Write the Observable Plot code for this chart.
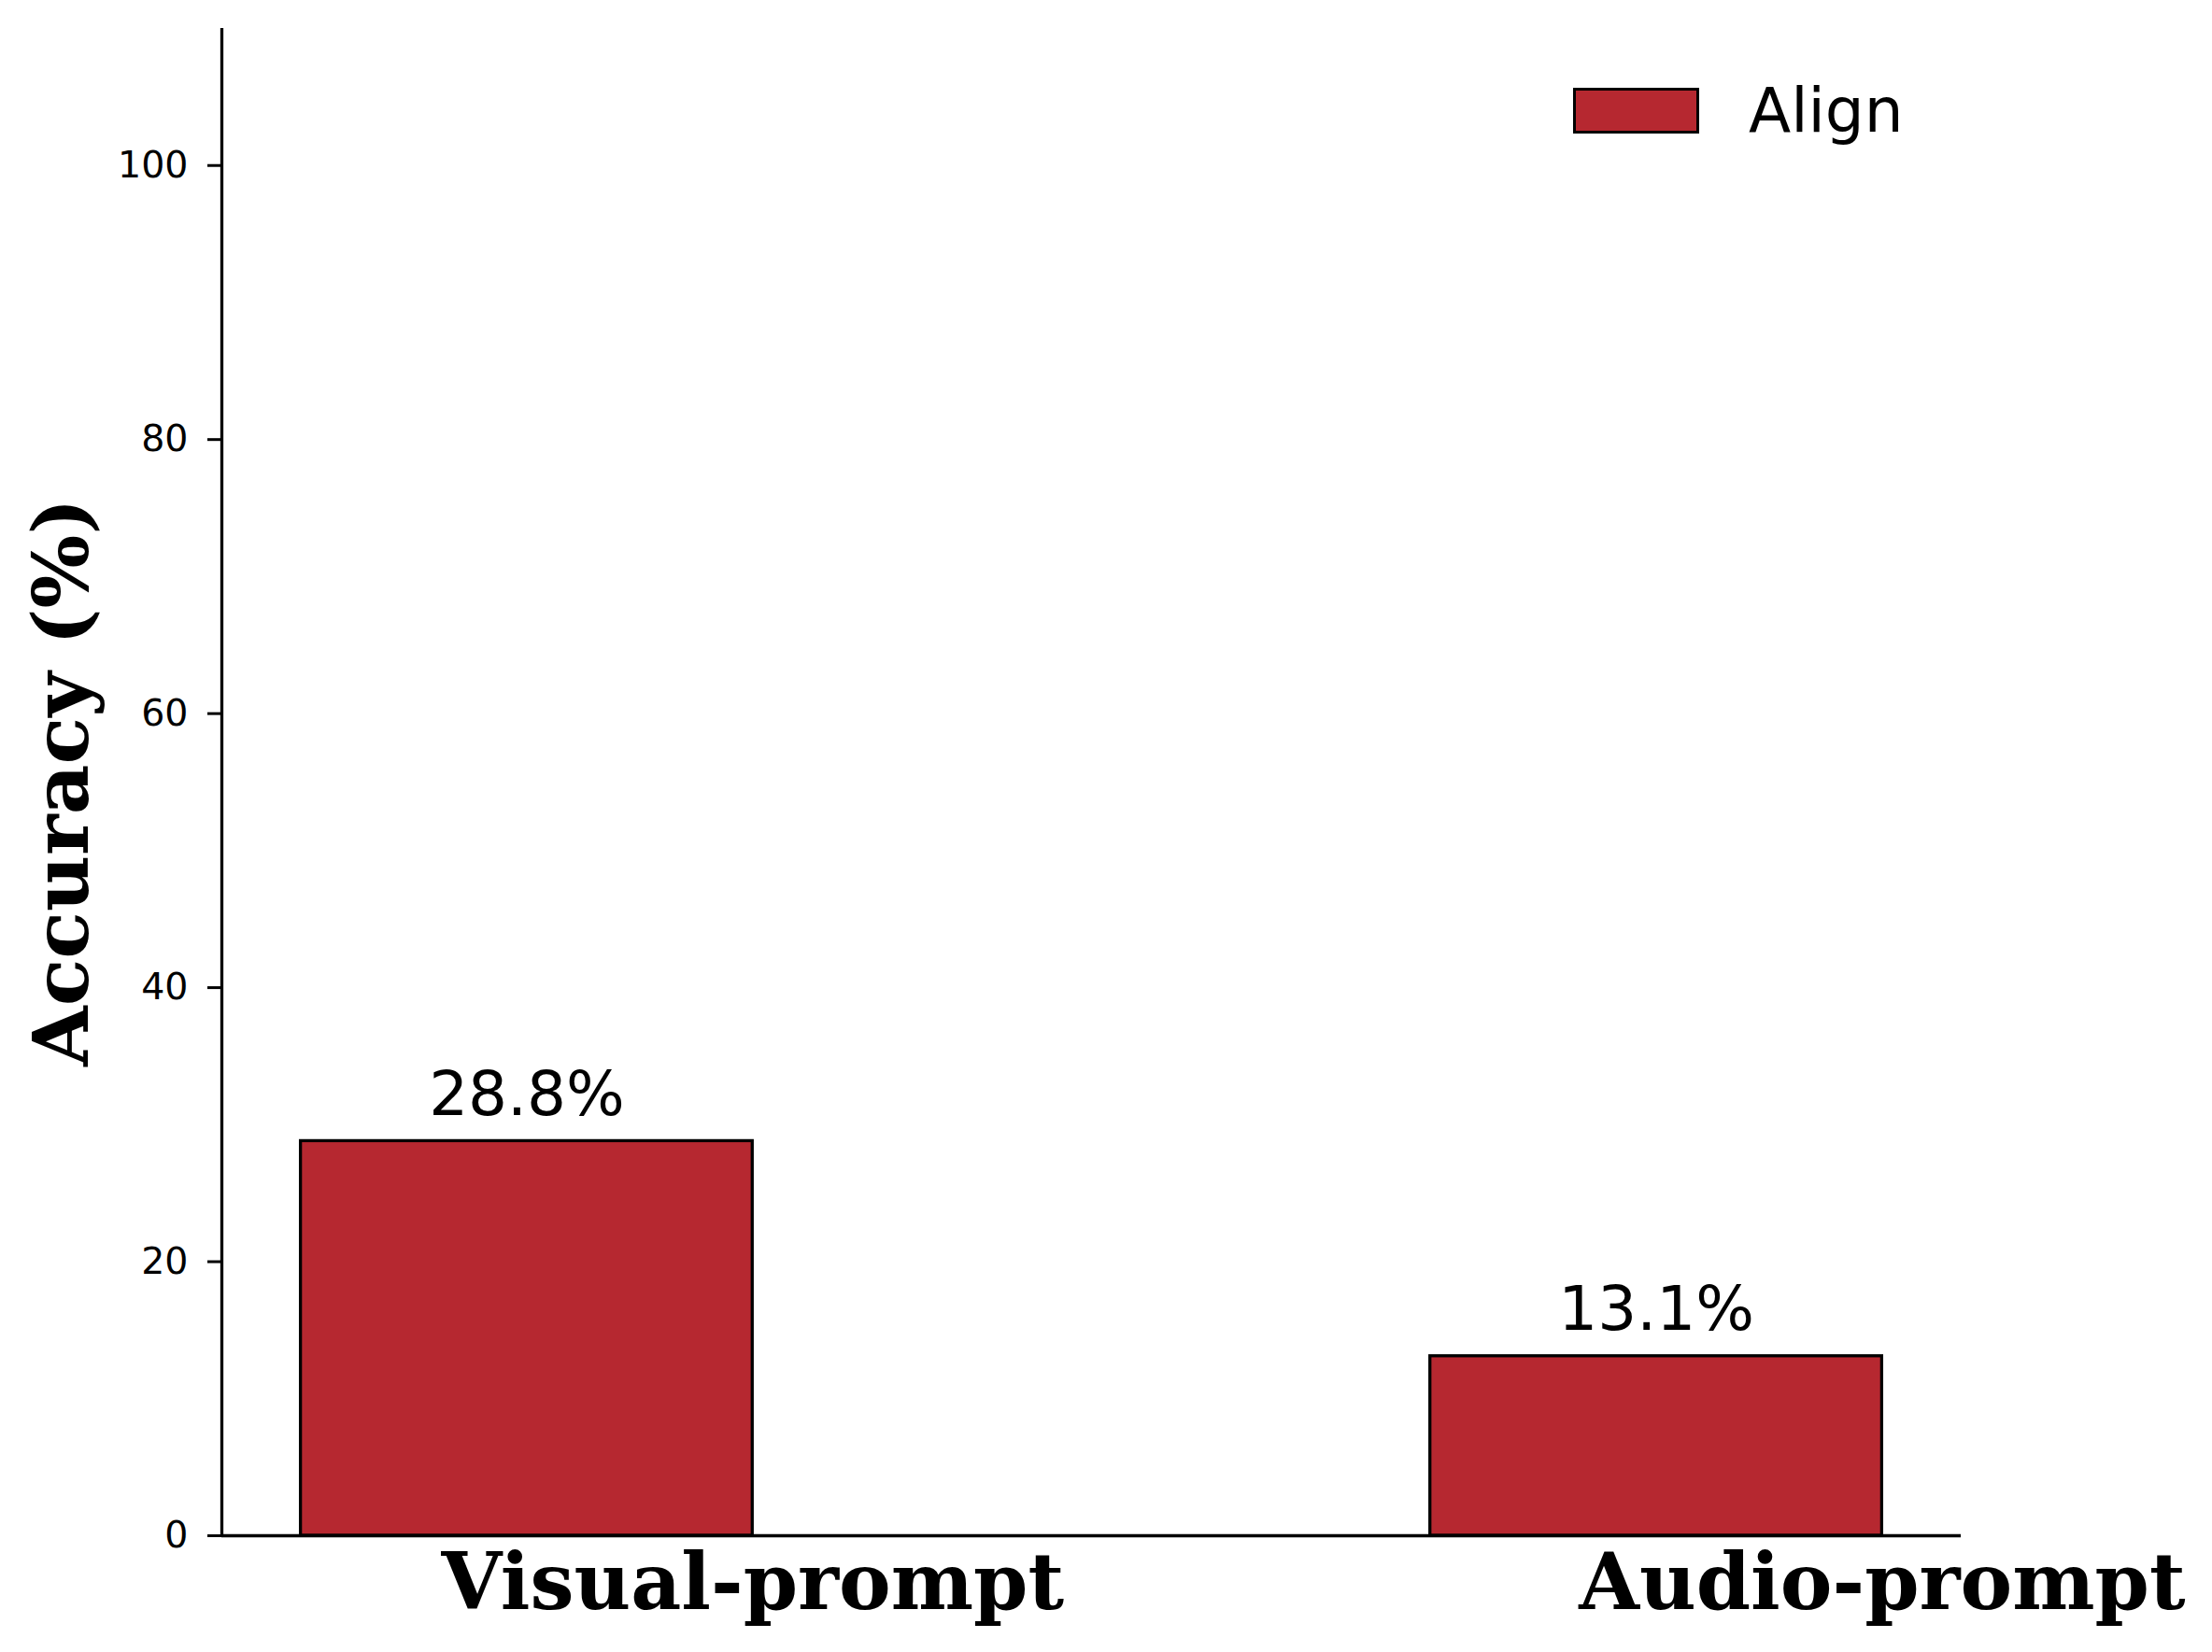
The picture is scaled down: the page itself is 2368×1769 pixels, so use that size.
<!DOCTYPE html>
<html>
<head>
<meta charset="utf-8">
<script src="https://cdn.jsdelivr.net/npm/d3@7"></script>
<script src="https://cdn.jsdelivr.net/npm/@observablehq/plot@0.6"></script>
<style>
  html, body { margin: 0; padding: 0; background: #fff; }
  #wrap { position: relative; width: 2368px; height: 1769px; }
  #legend { position: absolute; left: 1684px; top: 80px; display: flex; align-items: center;
            font-family: "DejaVu Sans", sans-serif; font-size: 66px; color: #000; }
  #legend .sw { width: 129px; height: 43px; background: #b62830; border: 3.5px solid #000; margin-right: 53px; }
</style>
</head>
<body>
<div id="wrap">
  <div id="chart"></div>
  <div id="legend"><div class="sw"></div><span id="legend-label"></span></div>
</div>
<script>
const categories = ["Visual-prompt", "Audio-prompt"];
const alignValues = [28.8, 13.1];
const seriesName = "Align";
const yTicks = [0, 20, 40, 60, 80, 100];
const yLabel = "Accuracy (%)";

const barWidth = 0.4;
const barColor = "#b62830";
const xDomain = [-0.27, 1.27];

const data = categories.map((c, i) => ({category: c, i, value: alignValues[i]}));
const tickPositions = categories.map((_, i) => i + barWidth / 2);

document.getElementById("legend-label").textContent = seriesName;

const chart = Plot.plot({
  width: 2368,
  height: 1769,
  marginLeft: 237,
  marginRight: 269,
  marginTop: 30,
  marginBottom: 125,
  style: {background: "#fff", color: "#000"},
  x: {type: "linear", domain: xDomain},
  y: {domain: [0, 110]},
  marks: [
    Plot.rectY(data, {
      x1: d => d.i - barWidth / 2,
      x2: d => d.i + barWidth / 2,
      y1: 0,
      y2: "value",
      fill: barColor,
      stroke: "#000",
      strokeWidth: 3.3
    }),
    Plot.text(data, {
      x: "i",
      y: "value",
      text: d => d.value.toFixed(1) + "%",
      lineAnchor: "bottom",
      dy: -28,
      fontSize: 66,
      fontFamily: "DejaVu Sans",
      fill: "#000"
    }),
    Plot.axisY({
      ticks: yTicks,
      tickSize: 15,
      tickPadding: 21,
      fontSize: 39.5,
      fontFamily: "DejaVu Sans",
      strokeWidth: 3,
      label: null
    }),
    Plot.axisX({
      ticks: tickPositions,
      tickFormat: (d, i) => categories[i],
      tickSize: 0,
      tickPadding: 19,
      fontSize: 83.5,
      fontWeight: "bold",
      fontFamily: "DejaVu Serif",
      label: null
    }),
    Plot.ruleX([xDomain[0]], {stroke: "#000", strokeWidth: 3.3}),
    Plot.ruleY([0], {stroke: "#000", strokeWidth: 3.3}),
    Plot.text([yLabel], {
      frameAnchor: "left",
      rotate: -90,
      dx: -170,
      textAnchor: "middle",
      lineAnchor: "middle",
      fontSize: 83,
      fontWeight: "bold",
      fontFamily: "DejaVu Serif",
      fill: "#000"
    })
  ]
});
document.getElementById("chart").appendChild(chart);
</script>
</body>
</html>
